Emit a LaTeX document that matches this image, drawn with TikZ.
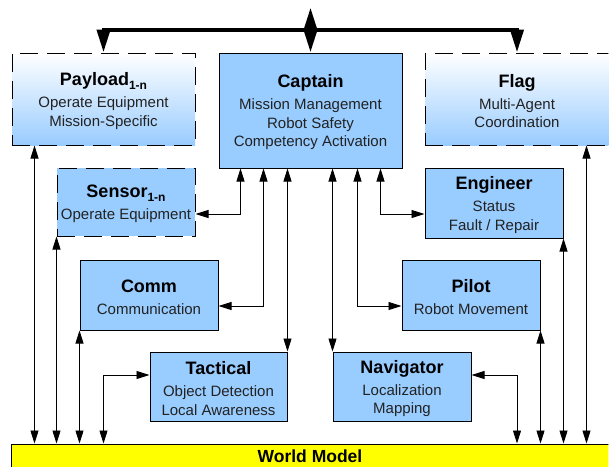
\documentclass[tikz,border=0pt]{standalone}
\usepackage{fontspec}
\setmainfont{Liberation Sans}
\usepackage{tikz}
\usetikzlibrary{arrows.meta, positioning, calc}
\definecolor{rblue}{HTML}{99CCFF}
\definecolor{rtext}{HTML}{222222}
\definecolor{ryellow}{HTML}{FFFF00}

\newcommand{\roletitle}[1]{{\color{black}\fontsize{18}{20}\selectfont\bfseries\rule{0pt}{17pt}#1}}
\newcommand{\manyof}{\raisebox{-0.35ex}{\fontsize{12}{12}\selectfont\bfseries 1-n}}

\tikzset{
  role/.style={draw, line width=1pt, fill=rblue, inner sep=0pt, align=center,
    text=rtext, font=\fontsize{15}{18.5}\selectfont,
    minimum width=138pt, minimum height=69pt},
  bigrole/.style={role, minimum width=183pt, minimum height=92pt},
  optional/.style={dash pattern=on 18pt off 9pt},
  fade/.style={top color=white, bottom color=rblue},
  link/.style={line width=0.9pt,
    {Triangle[length=13pt,width=8pt]}-{Triangle[length=13pt,width=8pt]}},
  bus/.style={line width=4pt, -{Triangle[length=23pt,width=13pt]}},
}

\begin{document}
\begin{tikzpicture}[x=1pt, y=-1pt]

  \useasboundingbox (0,0) rectangle (609,466);
  \clip (0,0) rectangle (608.4,466);

  %% Upper row
  \node[bigrole, optional, fade] (payload) at (103.5,99)
    {\roletitle{Payload\manyof}\\[3.5pt] Operate Equipment\\ Mission-Specific};
  \node[bigrole, minimum height=115pt] (captain) at (310.5,110.5)
    {\roletitle{Captain}\\[3.5pt] Mission Management\\ Robot Safety\\ Competency Activation};
  \node[bigrole, optional, fade, minimum width=184pt] (flag) at (517,99)
    {\roletitle{Flag}\\[3.5pt] Multi-Agent\\ Coordination};

  %% Roles
  \node[role, optional, minimum height=68pt] (sensor) at (126,202)
    {\roletitle{Sensor\manyof}\\[3.5pt] Operate Equipment};
  \node[role, minimum height=70pt] (engineer) at (494,203)
    {\roletitle{Engineer}\\[3.5pt] Status\\ Fault / Repair};
  \node[role, minimum height=70pt] (comm) at (149,295)
    {\roletitle{Comm}\\[3.5pt] Communication};
  \node[role, minimum height=70pt] (pilot) at (471,295)
    {\roletitle{Pilot}\\[3.5pt] Robot Movement};
  \node[role, minimum width=137pt] (tactical) at (218.5,386.5)
    {\roletitle{Tactical}\\[3.5pt] Object Detection\\ Local Awareness};
  \node[role] (navigator) at (402,386.5)
    {\roletitle{Navigator}\\[3.5pt] Localization\\ Mapping};

  %% World model
  \node[draw, line width=1pt, fill=ryellow, minimum width=598pt, minimum height=24pt,
    inner sep=0pt, font=\fontsize{17.5}{20}\selectfont\bfseries] (world) at (310,456)
    {World Model};

  %% Top bus
  \coordinate (hub) at ([yshift=23pt]captain.north);
  \coordinate (uplink) at ([yshift=45pt]captain.north);
  \draw[bus] (hub) -| (payload.north);
  \draw[bus] (hub) -| (flag.north);
  \draw[bus] (hub) -- (uplink);
  \draw[bus] (hub) -- (captain.north);

  %% Links to the captain
  \draw[link] ([yshift=-12pt]sensor.east) -| ([xshift=22pt]captain.south west);
  \draw[link] ([yshift=-11pt]comm.east) -| ([xshift=45pt]captain.south west);
  \draw[link] (captain.south -| tactical.north east) -- (tactical.north east);
  \draw[link] (captain.south -| navigator.north west) -- (navigator.north west);
  \draw[link] ([xshift=-45pt]captain.south east) |- ([yshift=-11pt]pilot.west);
  \draw[link] ([xshift=-22pt]captain.south east) |- ([yshift=-11pt]engineer.west);

  %% Links to the world model
  \coordinate (payloadfoot) at ([xshift=23pt]payload.south west);
  \coordinate (flagfoot) at ([xshift=-23pt]flag.south east);
  \draw[link] (payloadfoot) -- (payloadfoot |- world.north);
  \draw[link] (sensor.south west) -- (sensor.south west |- world.north);
  \draw[link] (comm.south west) -- (comm.south west |- world.north);
  \draw[link] ([yshift=11.5pt]tactical.west) -| (payload.south |- world.north);
  \draw[link] ([yshift=11.5pt]navigator.east) -| (flag.south |- world.north);
  \draw[link] (pilot.south east) -- (pilot.south east |- world.north);
  \draw[link] (engineer.south east) -- (engineer.south east |- world.north);
  \draw[link] (flagfoot) -- (flagfoot |- world.north);

\end{tikzpicture}
\end{document}
